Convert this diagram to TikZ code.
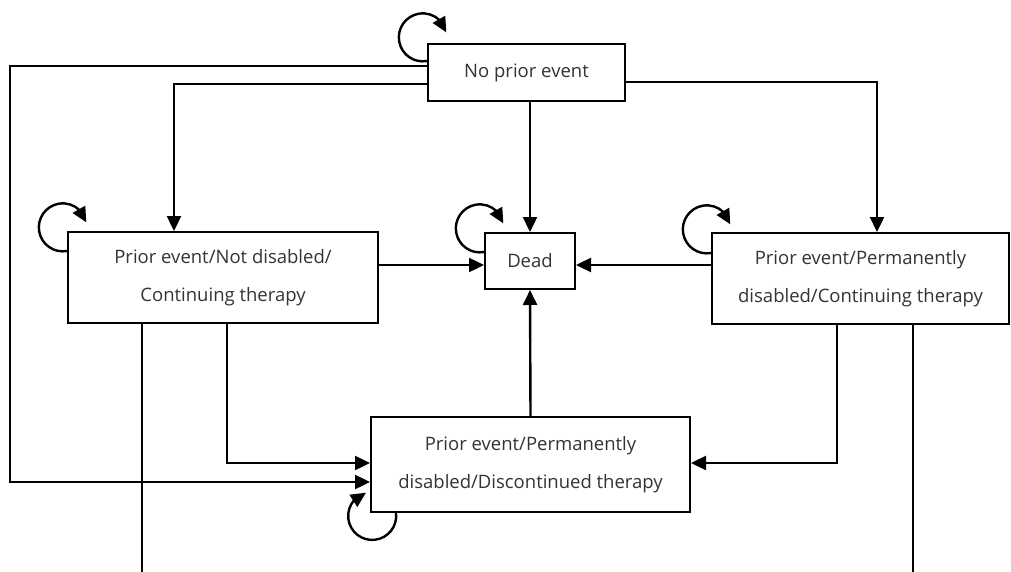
\documentclass[tikz,border=0pt]{standalone}
\usepackage{fontspec}
\setmainfont{Open Sans}
\usetikzlibrary{arrows.meta,bending,calc}

\begin{document}
\begin{tikzpicture}[x=1pt, y=-1pt,
    state/.style={draw, line width=2pt, text=black!80, align=center, inner sep=0pt,
      font=\fontsize{18.5}{38}\selectfont},
    arr/.style={line width=2.4pt, -{Triangle[length=15pt,width=14pt]}},
    thinline/.style={line width=1.4pt}]
    \useasboundingbox (0,0) rectangle (1011,572);
    \node[state, minimum width=197, minimum height=57] (0) at (526.5, 72.5) {No prior event};
    \node[state, minimum width=310, minimum height=91] (1) at (223, 277.5) {Prior event/Not disabled/\\Continuing therapy};
    \node[state, minimum width=90, minimum height=56] (2) at (530, 261) {Dead};
    \node[state, minimum width=297, minimum height=91] (3) at (860.5, 278.5) {Prior event/Permanently\\disabled/Continuing therapy};
    \node[state, minimum width=319, minimum height=95] (4) at (530.5, 464.5) {Prior event/Permanently\\disabled/Discontinued therapy};
    \coordinate (e1) at (142, 572);
    \coordinate (e2) at (913, 572);

    \draw[arr] ($(0.west)+(0,-6.5)$) -| ($(4.west)+(-360,17.5)$) -- ($(4.west)+(0,17.5)$);
    \draw[arr] ($(0.west)+(0,11.5)$) -| ($(1.north)+(-49,0)$);
    \draw[arr] (0.south -| 2.north) -- (2.north);
    \draw[arr] ($(0.east)+(0,9.5)$) -| ($(3.north)+(16.5,0)$);
    \draw[arr] ($(1.east)+(0,-12.5)$) -- ($(2.west)+(0,4)$);
    \draw[arr] ($(3.west)+(0,-13.5)$) -- ($(2.east)+(0,4)$);
    \draw[arr] (4.north) -- (2.south);
    \draw[arr] ($(1.south)+(4,0)$) |- ($(4.west)+(0,-1.5)$);
    \draw[arr] ($(3.south)+(-23.5,0)$) |- ($(4.east)+(0,-1.5)$);
    \draw[thinline] ($(1.south)+(-81,0)$) -- (e1);
    \draw[thinline] ($(3.south)+(52.5,0)$) -- (e2);

    \draw[arr] ($(0.north west)+(0,18)$) arc[start angle=80, end angle=348, radius=24];
    \draw[arr] ($(1.north west)+(0,20)$) arc[start angle=80, end angle=348, radius=24];
    \draw[arr] ($(2.north west)+(0,20)$) arc[start angle=80, end angle=348, radius=24];
    \draw[arr] ($(3.north west)+(0,21)$) arc[start angle=80, end angle=348, radius=24];
    \draw[arr] ($(4.south west)+(26,0)$) arc[start angle=-7, end angle=255, radius=24];
\end{tikzpicture}
\end{document}
